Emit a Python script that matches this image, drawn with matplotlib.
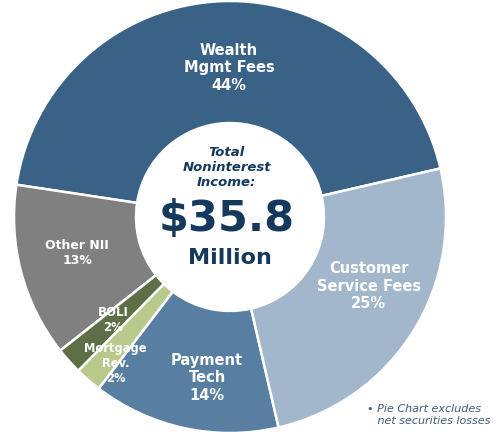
import matplotlib.pyplot as plt

# slices, counter-clockwise starting from the top-right
labels = ['Wealth\nMgmt Fees', 'Other NII', 'BOLI', 'Mortgage\nRev.', 'Payment\nTech', 'Customer\nService Fees']
shares = [44, 13, 2, 2, 14, 25]
colors = ['#3a6186', '#808080', '#5e6f47', '#b8c98b', '#587ea2', '#a2b7cb']

# where each label sits (data coords, pie radius = 1)
label_xy = [(-0.005, 0.69), (-0.708, -0.167), (-0.54, -0.477), (-0.53, -0.676), (-0.106, -0.745), (0.643, -0.32)]
label_size = [10.5, 9, 8.5, 8.3, 10.5, 10.5]

# pixel geometry of the reference: centre and radius
cx, cy, R = 230, 217, 216

fig = plt.figure(figsize=(5.03, 4.32), dpi=100)
ax = fig.add_axes([0, 0, 1, 1])

ax.pie(shares, colors=colors, startangle=13, counterclock=True, radius=1,
       wedgeprops=dict(width=0.565, edgecolor='white', linewidth=1.8))

for lab, s, (x, y), fs in zip(labels, shares, label_xy, label_size):
    ax.text(x, y, '{}\n{}%'.format(lab, s), ha='center', va='center', color='white',
            fontsize=fs, fontweight='bold', linespacing=1.2)

# centre text
navy = '#14395d'
ax.text(-0.015, 0.23, 'Total\nNoninterest\nIncome:', ha='center', va='center', color=navy,
        fontsize=9.5, fontweight='bold', style='italic', linespacing=1.2)
ax.text(-0.015, -0.01, '$35.8', ha='center', va='center', color=navy, fontsize=31, fontweight='bold')
ax.text(0.0, -0.19, 'Million', ha='center', va='center', color=navy, fontsize=16, fontweight='bold')

# footnote
ax.text(0.634, -0.917, '\u2022 Pie Chart excludes\n   net securities losses', ha='left', va='center',
        color='#3f5a7a', fontsize=8, style='italic', linespacing=1.15)

ax.set_xlim(-cx / R, (503 - cx) / R)
ax.set_ylim(-(432 - cy) / R, cy / R)
ax.set_aspect('auto')
ax.axis('off')

fig.savefig('out.png', dpi=100)
